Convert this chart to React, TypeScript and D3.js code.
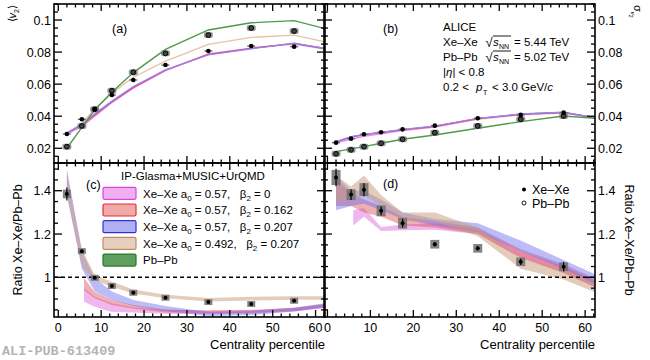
import * as d3 from 'd3'

const FONT = 'Liberation Sans, Arial, Helvetica, sans-serif'

// centrality bins (%)
const cent = [2, 5.5, 8.5, 12.5, 17.5, 25, 35, 45, 55]
const modelCent = [2, 5.5, 8.5, 12.5, 17.5, 25, 35, 45, 55, 65]
const modelCentLate = [6, 8.5, 12.5, 17.5, 25, 35, 45, 55, 65]

// (a) <v2>
const v2Xe = [0.0289, 0.0381, 0.0443, 0.0532, 0.0626, 0.0719, 0.0807, 0.0838, 0.0834]
const v2Pb = [0.021, 0.0339, 0.0443, 0.0559, 0.0674, 0.0792, 0.0906, 0.095, 0.0931]
const v2PbModel = [0.02, 0.033, 0.044, 0.055, 0.0672, 0.0817, 0.0938, 0.0983, 0.0996, 0.0927]
const v2XeB0 = [0.029, 0.0335, 0.04, 0.0485, 0.0575, 0.0685, 0.0788, 0.0825, 0.085, 0.0808]
const v2XeB162 = [0.0294, 0.0345, 0.0408, 0.049, 0.058, 0.0688, 0.0786, 0.0823, 0.0854, 0.081]
const v2XeB207 = [0.0296, 0.035, 0.0415, 0.0495, 0.0585, 0.069, 0.0782, 0.082, 0.0856, 0.081]
const v2XeA492 = [0.029, 0.0355, 0.0445, 0.0543, 0.0643, 0.0744, 0.0848, 0.0892, 0.0906, 0.0847]

// (b) sigma v2
const sigXe = [0.0235, 0.026, 0.0287, 0.03, 0.0318, 0.0341, 0.0387, 0.0408, 0.0422]
const sigPb = [0.0165, 0.019, 0.021, 0.0231, 0.0256, 0.0297, 0.0339, 0.0381, 0.0401]
const sigPbModel = [0.0179, 0.0196, 0.021, 0.0231, 0.0256, 0.0283, 0.0325, 0.0366, 0.0401, 0.0381]
const sigXeB0 = [0.0236, 0.0256, 0.0275, 0.029, 0.031, 0.0333, 0.0384, 0.0412, 0.0424, 0.0378]
const sigXeB162 = [0.024, 0.027, 0.0285, 0.0298, 0.0315, 0.0337, 0.0385, 0.0412, 0.0423, 0.0376]
const sigXeB207 = [0.0241, 0.0273, 0.0287, 0.03, 0.0318, 0.0339, 0.0387, 0.0414, 0.0425, 0.0378]
const sigXeA492 = [0.0238, 0.0268, 0.0283, 0.0296, 0.0313, 0.0334, 0.038, 0.0408, 0.042, 0.0378]

// (c) ratio <v2>
const rV2 = [1.385, 1.121, 0.998, 0.96, 0.929, 0.906, 0.886, 0.877, 0.892]
const rV2Err = [0.03, 0.006, 0.005, 0.004, 0.003, 0.003, 0.003, 0.003, 0.004]
const rV2Sys = [0.02, 0.012, 0.01, 0.008, 0.008, 0.008, 0.008, 0.007, 0.008]
const rV2B0Lo = [0.887, 0.864, 0.84, 0.838, 0.832, 0.83, 0.833, 0.842, 0.865]
const rV2B0Hi = [0.95, 0.91, 0.88, 0.862, 0.85, 0.845, 0.848, 0.858, 0.882]
const rV2B162Lo = [0.94, 0.903, 0.872, 0.855, 0.838, 0.834, 0.836, 0.845, 0.868]
const rV2B162Hi = [0.997, 0.933, 0.895, 0.872, 0.852, 0.848, 0.85, 0.86, 0.885]
const rV2B207Lo = [1.38, 1.04, 0.935, 0.895, 0.868, 0.845, 0.822, 0.826, 0.842, 0.868]
const rV2B207Hi = [1.5, 1.12, 0.997, 0.935, 0.895, 0.868, 0.84, 0.845, 0.86, 0.888]
const rV2A492Lo = [1.38, 1.05, 0.985, 0.957, 0.926, 0.903, 0.888, 0.893, 0.897, 0.897]
const rV2A492Hi = [1.48, 1.13, 1.01, 0.98, 0.944, 0.92, 0.905, 0.91, 0.913, 0.913]

// (d) ratio sigma v2
const rSig = [1.461, 1.382, 1.405, 1.307, 1.25, 1.153, 1.134, 1.072, 1.049]
const rSigErr = [0.04, 0.025, 0.03, 0.02, 0.02, 0.01, 0.01, 0.015, 0.022]
const rSigSys = [0.035, 0.025, 0.03, 0.025, 0.025, 0.02, 0.02, 0.02, 0.02]
const rSigB0Lo = [1.24, 1.28, 1.214, 1.217, 1.22, 1.2, 1.09, 1.02, 0.93]
const rSigB0Hi = [1.31, 1.32, 1.232, 1.244, 1.25, 1.22, 1.12, 1.05, 0.96]
const rSigB162Lo = [1.33, 1.33, 1.3, 1.28, 1.24, 1.23, 1.2, 1.09, 1.02, 0.93]
const rSigB162Hi = [1.45, 1.39, 1.36, 1.33, 1.28, 1.26, 1.23, 1.13, 1.06, 0.97]
const rSigB207Lo = [1.31, 1.33, 1.34, 1.31, 1.27, 1.24, 1.21, 1.12, 1.04, 0.94]
const rSigB207Hi = [1.47, 1.4, 1.4, 1.36, 1.3, 1.27, 1.25, 1.17, 1.08, 0.99]
const rSigA492Lo = [1.35, 1.36, 1.38, 1.33, 1.26, 1.26, 1.19, 1.04, 0.99, 0.91]
const rSigA492Hi = [1.47, 1.42, 1.47, 1.38, 1.3, 1.3, 1.23, 1.09, 1.04, 0.95]

const legendLabels = [
  { a: '0.57', b: '0', fill: '#f0b0f0', stroke: '#e040e0' },
  { a: '0.57', b: '0.162', fill: '#f0aaaa', stroke: '#e03030' },
  { a: '0.57', b: '0.207', fill: '#b0b0f0', stroke: '#3030e0' },
  { a: '0.492', b: '0.207', fill: '#e6cfbf', stroke: '#c08a68' },
]

const COL = {
  pink: '#e070e0',
  red: '#e05050',
  blue: '#6a6af0',
  beige: '#c99a78',
}

const NB = '\u00a0'

// layout
const xA = d3.scaleLinear().domain([-1, 62.2]).range([54, 325])
const xB = d3.scaleLinear().domain([-0.8, 62.3]).range([324, 595])
const yTop = d3.scaleLinear().domain([0.0108, 0.11]).range([163, 4])
const yBot = d3.scaleLinear().domain([0.817, 1.528]).range([317, 163])

type Scale = d3.ScaleLinear<number, number>

function Ticks({ x, y, yMinor, yMajor }: { x: Scale; y: Scale; yMinor: number[]; yMajor: (v: number) => boolean }) {
  const [x0, x1] = x.range()
  const [y1, y0] = y.range()
  const xt = d3.range(0, 63, 2)
  const out: JSX.Element[] = []
  xt.forEach((v, i) => {
    const L = v % 10 === 0 ? 7 : 3.5
    const px = x(v)
    out.push(<line key={'xb' + i} x1={px} x2={px} y1={y1} y2={y1 - L} />)
    out.push(<line key={'xt' + i} x1={px} x2={px} y1={y0} y2={y0 + L} />)
  })
  yMinor.forEach((v, i) => {
    const L = yMajor(v) ? 8 : 4
    const py = y(v)
    out.push(<line key={'yl' + i} x1={x0} x2={x0 + L} y1={py} y2={py} />)
    out.push(<line key={'yr' + i} x1={x1} x2={x1 - L} y1={py} y2={py} />)
  })
  return (
    <g stroke="#000" strokeWidth={1.3}>
      {out}
    </g>
  )
}

function Band({ x, y, cs, lo, hi, color, op, clip }: any) {
  const rows = cs.map((c: number, i: number) => ({ c, lo: lo[i], hi: hi[i] }))
  const area = d3
    .area<any>()
    .x((d) => x(d.c))
    .y0((d) => y(d.lo))
    .y1((d) => y(d.hi))
  return <path d={area(rows) || ''} fill={color} fillOpacity={op} clipPath={clip} />
}

function Line({ x, y, vals, color, w = 1.4, clip }: any) {
  const rows = modelCent.map((c, i) => [c, vals[i]] as [number, number])
  const line = d3
    .line<[number, number]>()
    .x((d) => x(d[0]))
    .y((d) => y(d[1]))
  return <path d={line(rows) || ''} fill="none" stroke={color} strokeWidth={w} clipPath={clip} />
}

function XePoints({ x, y, vals }: { x: Scale; y: Scale; vals: number[] }) {
  return (
    <g>
      {vals.map((v, i) => (
        <g key={i}>
          <line x1={x(cent[i]) - 4} x2={x(cent[i]) + 4} y1={y(v)} y2={y(v)} stroke="#777" strokeWidth={1.5} />
          <circle cx={x(cent[i])} cy={y(v)} r={2.3} fill="#000" />
        </g>
      ))}
    </g>
  )
}

function PbPoints({ x, y, vals }: { x: Scale; y: Scale; vals: number[] }) {
  return (
    <g>
      {vals.map((v, i) => (
        <g key={i}>
          <rect x={x(cent[i]) - 4.5} y={y(v) - 3} width={9} height={6} fill="#777" fillOpacity={0.75} rx={2} />
          <circle cx={x(cent[i])} cy={y(v)} r={2.4} fill="#444" stroke="#000" strokeWidth={1} />
        </g>
      ))}
    </g>
  )
}

function RatioPoints({ x, y, vals, err, sys, hw }: any) {
  return (
    <g>
      {vals.map((v: number, i: number) => {
        const px = x(cent[i])
        const h = Math.max(y(v - sys[i]) - y(v + sys[i]), 6)
        return (
          <g key={i}>
            <rect x={px - hw} y={y(v) - h / 2} width={hw * 2} height={h} fill="#6e6e6e" fillOpacity={0.85} />
            <line x1={px} x2={px} y1={y(v - err[i])} y2={y(v + err[i])} stroke="#000" strokeWidth={1.2} />
            <circle cx={px} cy={y(v)} r={2} fill="#000" />
          </g>
        )
      })}
    </g>
  )
}

export default function App() {
  const topMinor = d3.range(15, 111, 5).map((v) => v / 1000)
  const topMajor = (v: number) => Math.round(v * 1000) % 20 === 0
  const botMinor = d3.range(85, 153, 5).map((v) => v / 100)
  const botMajor = (v: number) => Math.round(v * 100) % 20 === 0
  const topLabels = [0.02, 0.04, 0.06, 0.08, 0.1]
  const botLabels = [1, 1.2, 1.4]
  const xLabels = [0, 10, 20, 30, 40, 50, 60]

  return (
    <svg width={650} height={360} style={{ position: 'absolute', left: 0, top: 0, background: '#fff' }} fontFamily={FONT}>
      <defs>
        <clipPath id="ca"><rect x={54} y={4} width={271} height={159} /></clipPath>
        <clipPath id="cb"><rect x={324} y={4} width={271} height={159} /></clipPath>
        <clipPath id="cc"><rect x={54} y={163} width={271} height={154} /></clipPath>
        <clipPath id="cd"><rect x={324} y={163} width={271} height={154} /></clipPath>
      </defs>

      {/* (a) */}
      <Line x={xA} y={yTop} vals={v2XeA492} color="#e6c2a8" clip="url(#ca)" />
      <Line x={xA} y={yTop} vals={v2XeB0} color="#f08af0" clip="url(#ca)" />
      <Line x={xA} y={yTop} vals={v2XeB162} color="#e04a6a" clip="url(#ca)" />
      <Line x={xA} y={yTop} vals={v2XeB207} color="#8a8aff" w={1.2} clip="url(#ca)" />
      <Line x={xA} y={yTop} vals={v2PbModel} color="#4c9a4c" clip="url(#ca)" />
      <PbPoints x={xA} y={yTop} vals={v2Pb} />
      <XePoints x={xA} y={yTop} vals={v2Xe} />

      {/* (b) */}
      <Line x={xB} y={yTop} vals={sigXeA492} color="#e6c2a8" clip="url(#cb)" />
      <Line x={xB} y={yTop} vals={sigXeB0} color="#f08af0" clip="url(#cb)" />
      <Line x={xB} y={yTop} vals={sigXeB162} color="#e04a6a" clip="url(#cb)" />
      <Line x={xB} y={yTop} vals={sigXeB207} color="#8a8aff" w={1.2} clip="url(#cb)" />
      <Line x={xB} y={yTop} vals={sigPbModel} color="#4c9a4c" clip="url(#cb)" />
      <PbPoints x={xB} y={yTop} vals={sigPb} />
      <XePoints x={xB} y={yTop} vals={sigXe} />

      {/* (c) */}
      <Band x={xA} y={yBot} cs={modelCentLate} lo={rV2B0Lo} hi={rV2B0Hi} color={COL.pink} op={0.5} clip="url(#cc)" />
      <Band x={xA} y={yBot} cs={modelCentLate} lo={rV2B162Lo} hi={rV2B162Hi} color={COL.red} op={0.45} clip="url(#cc)" />
      <Band x={xA} y={yBot} cs={modelCent} lo={rV2B207Lo} hi={rV2B207Hi} color={COL.blue} op={0.45} clip="url(#cc)" />
      <Band x={xA} y={yBot} cs={modelCent} lo={rV2A492Lo} hi={rV2A492Hi} color={COL.beige} op={0.5} clip="url(#cc)" />
      <line x1={54} x2={325} y1={yBot(1)} y2={yBot(1)} stroke="#000" strokeWidth={1.5} strokeDasharray="4,3" />
      <RatioPoints x={xA} y={yBot} vals={rV2} err={rV2Err} sys={rV2Sys} hw={4} />

      {/* (d) */}
      <Band x={xB} y={yBot} cs={modelCentLate} lo={rSigB0Lo} hi={rSigB0Hi} color={COL.pink} op={0.5} clip="url(#cd)" />
      <Band x={xB} y={yBot} cs={modelCent} lo={rSigB162Lo} hi={rSigB162Hi} color={COL.red} op={0.45} clip="url(#cd)" />
      <Band x={xB} y={yBot} cs={modelCent} lo={rSigB207Lo} hi={rSigB207Hi} color={COL.blue} op={0.45} clip="url(#cd)" />
      <Band x={xB} y={yBot} cs={modelCent} lo={rSigA492Lo} hi={rSigA492Hi} color={COL.beige} op={0.5} clip="url(#cd)" />
      <line x1={324} x2={595} y1={yBot(1)} y2={yBot(1)} stroke="#000" strokeWidth={1.5} strokeDasharray="4,3" />
      <RatioPoints x={xB} y={yBot} vals={rSig} err={rSigErr} sys={rSigSys} hw={4.5} />

      {/* frames and ticks */}
      <Ticks x={xA} y={yTop} yMinor={topMinor} yMajor={topMajor} />
      <Ticks x={xB} y={yTop} yMinor={topMinor} yMajor={topMajor} />
      <Ticks x={xA} y={yBot} yMinor={botMinor} yMajor={botMajor} />
      <Ticks x={xB} y={yBot} yMinor={botMinor} yMajor={botMajor} />
      <g fill="none" stroke="#000" strokeWidth={1.6}>
        <rect x={54} y={4} width={271} height={159} />
        <rect x={324} y={4} width={271} height={159} />
        <rect x={54} y={163} width={271} height={154} />
        <rect x={324} y={163} width={271} height={154} />
      </g>

      {/* tick labels */}
      <g fontSize={12.5} fill="#000">
        {topLabels.map((v) => (
          <text key={'la' + v} x={51} y={yTop(v) + 4.5} textAnchor="end">{String(v)}</text>
        ))}
        {topLabels.map((v) => (
          <text key={'lb' + v} x={598} y={yTop(v) + 4.5}>{String(v)}</text>
        ))}
        {botLabels.map((v) => (
          <text key={'lc' + v} x={51} y={yBot(v) + 4.5} textAnchor="end">{String(v)}</text>
        ))}
        {botLabels.map((v) => (
          <text key={'ld' + v} x={598} y={yBot(v) + 4.5}>{String(v)}</text>
        ))}
        {xLabels.map((v) => (
          <text key={'xa' + v} x={xA(v)} y={332} textAnchor="middle">{v}</text>
        ))}
        {xLabels.map((v) => (
          <text key={'xb' + v} x={xB(v)} y={332} textAnchor="middle">{v}</text>
        ))}
      </g>

      {/* axis titles */}
      <g fontSize={13} fill="#000">
        <text x={325} y={349} textAnchor="end">Centrality percentile</text>
        <text x={595} y={349} textAnchor="end">Centrality percentile</text>
        <text transform="translate(22,240) rotate(-90)" textAnchor="middle" fontSize={12.5}>Ratio Xe–Xe/Pb–Pb</text>
        <text transform="translate(625,240) rotate(90)" textAnchor="middle" fontSize={12.5}>Ratio Xe–Xe/Pb–Pb</text>
        <text transform="translate(16,5) rotate(-90)" textAnchor="end" fontSize={11}>
          ⟨<tspan fontStyle="italic">v</tspan><tspan fontSize={7} dy={3}>2</tspan><tspan dy={-3}>⟩</tspan>
        </text>
        <text transform="translate(634,5) rotate(90)" fontSize={11}>
          σ<tspan fontSize={6} dy={3} fontStyle="italic">v</tspan><tspan fontSize={5} dy={2}>2</tspan>
        </text>
      </g>

      {/* panel tags */}
      <g fontSize={12.5} fill="#000">
        <text x={112} y={33}>(a)</text>
        <text x={383} y={33}>(b)</text>
        <text x={86} y={189}>(c)</text>
        <text x={383} y={188}>(d)</text>
      </g>

      {/* ALICE block */}
      <g fontSize={11.5} fill="#000">
        <text x={443} y={31}>ALICE</text>
        <text x={443} y={46}>Xe–Xe</text>
        <text x={443} y={61}>Pb–Pb</text>
        {[46, 61].map((yy, i) => (
          <g key={yy}>
            <text x={485.5} y={yy + 1} fontSize={13}>√</text>
            <line x1={493} x2={511} y1={yy - 10} y2={yy - 10} stroke="#000" strokeWidth={0.9} />
            <text x={493} y={yy} fontStyle="italic">s</text>
            <text x={499} y={yy + 3} fontSize={7}>NN</text>
            <text x={514} y={yy}>{i === 0 ? '= 5.44 TeV' : '= 5.02 TeV'}</text>
          </g>
        ))}
        <text x={443} y={76}>|<tspan fontStyle="italic">η</tspan>| &lt; 0.8</text>
        <text x={443} y={91}>0.2 &lt;</text>
        <text x={476} y={91} fontStyle="italic">p</text>
        <text x={483} y={95} fontSize={7}>T</text>
        <text x={492} y={91}>&lt; 3.0 GeV/<tspan fontStyle="italic">c</tspan></text>
      </g>

      {/* legend (c) */}
      <g fontSize={11.5} fill="#000">
        <text x={193} y={180} textAnchor="middle">IP-Glasma+MUSIC+UrQMD</text>
        {legendLabels.map((l, i) => {
          const yy = 193.3 + i * 16.7
          return (
            <g key={i}>
              <rect x={103} y={yy - 6} width={33} height={12} fill={l.fill} stroke={l.stroke} strokeWidth={1.2} rx={1.5} />
              <text x={143} y={yy + 4.2}>
                Xe–Xe a<tspan fontSize={8} dy={3}>0</tspan>
                <tspan dy={-3}>{NB + '= ' + l.a + ',' + NB + NB + NB + 'β'}</tspan>
                <tspan fontSize={8} dy={3}>2</tspan>
                <tspan dy={-3}>{NB + '= ' + l.b}</tspan>
              </text>
            </g>
          )
        })}
        <rect x={103} y={193.3 + 4 * 16.7 - 6} width={33} height={12} fill="#5e9e5e" stroke="#2a7a2a" strokeWidth={1.2} rx={1.5} />
        <text x={143} y={193.3 + 4 * 16.7 + 4.2}>Pb–Pb</text>
      </g>

      {/* legend (d) */}
      <g fontSize={12.5} fill="#000">
        <circle cx={524} cy={189.5} r={2} fill="#000" />
        <text x={532} y={194}>Xe–Xe</text>
        <circle cx={524} cy={203} r={2} fill="none" stroke="#000" strokeWidth={0.9} />
        <text x={532} y={207.5}>Pb–Pb</text>
      </g>

      <text x={2} y={355} fontFamily="Liberation Mono, DejaVu Sans Mono, monospace" fontWeight="bold" fontSize={13.5} fill="#b4b4b4">
        ALI-PUB-613409
      </text>
    </svg>
  )
}
